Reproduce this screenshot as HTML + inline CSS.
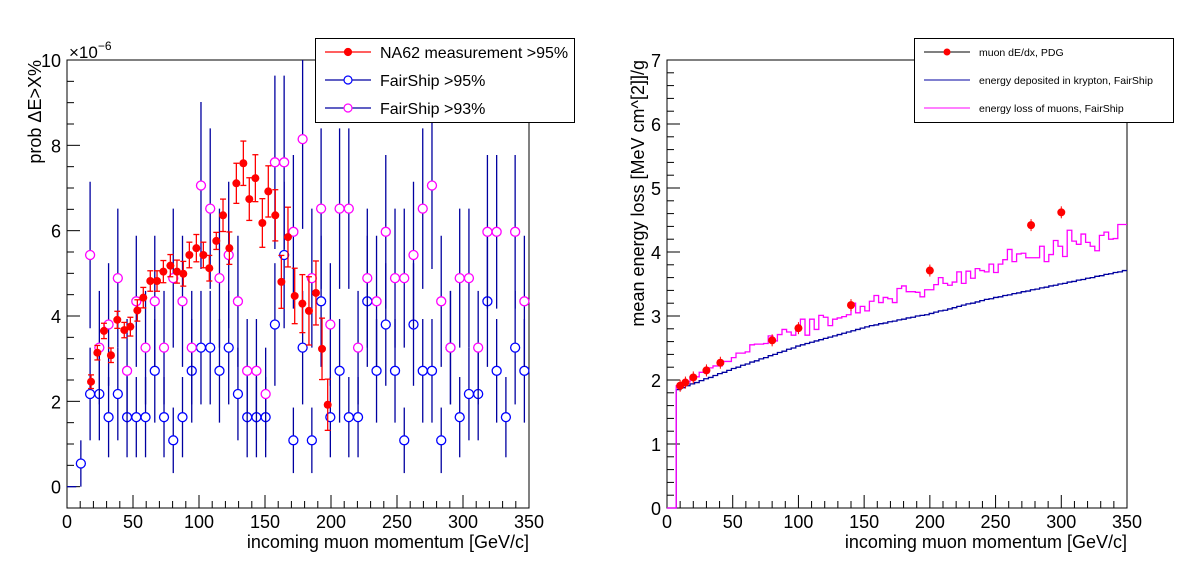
<!DOCTYPE html>
<html><head><meta charset="utf-8"><style>
body{margin:0;background:#fff;}
svg{display:block;font-family:"Liberation Sans",sans-serif;}
</style></head><body>
<svg id="c" width="1198" height="571" xmlns="http://www.w3.org/2000/svg">
<rect width="1198" height="571" fill="#fff"/>
<g id="L"></g>
<g id="R"></g>
</svg>
<script>
// ---- Left panel data ----
const unitL = 0.543;
const fsX0 = 10.5, fsStep = 7;
const fs95Counts = [1,4,4,3,4,3,3,3,5,3,2,3,5,6,6,5,6,4,3,3,3,7,10,2,6,2,8,3,5,3,3,8,5,7,5,2,7,5,5,2,6,3,4,4,8,5,3,6,5];
const fs93Counts = [0,10,6,7,9,5,8,6,8,6,9,8,6,13,12,9,10,8,5,5,4,14,14,11,15,9,12,7,12,12,6,9,8,11,9,9,10,12,13,8,6,9,9,6,11,11,0,11,8];
const na62P = [18.2,23,28,33.3,38.1,43.4,48,53.3,57.8,63.1,68.2,73,78.3,83.3,88.1,92.7,98,103.3,107.8,113.1,118.2,123,128.3,133.6,138.1,142.7,148,152.5,157.8,162.4,167.4,172.5,178.3,183.3,188.6,193.2,197.5];
const na62V = [2.46,3.14,3.65,3.08,3.91,3.67,3.75,4.13,4.43,4.82,4.82,5.04,5.18,5.04,4.99,5.43,5.59,5.43,5.12,5.76,6.36,5.59,7.11,7.58,6.74,7.23,6.18,6.92,6.36,4.80,5.85,4.47,4.29,4.12,4.54,3.23,1.92];
const na62E = [0.16,0.17,0.18,0.17,0.2,0.18,0.22,0.25,0.24,0.24,0.24,0.26,0.26,0.27,0.29,0.3,0.32,0.3,0.3,0.2,0.38,0.38,0.47,0.52,0.5,0.55,0.57,0.6,0.6,0.62,0.7,0.65,0.68,0.8,0.75,0.72,0.6];
const leftYTicks = [0,2,4,6,8,10];
const xTicks = [0,50,100,150,200,250,300,350];
// ---- Right panel data ----
const pdgP = [10,14,20,30,40.6,80,100,140,200,277,300];
const pdgV = [1.91,1.96,2.04,2.15,2.27,2.62,2.81,3.17,3.71,4.42,4.62];
const binW = 3.5;
const depBins = [0,0,1.85,1.88,1.91,1.94,1.96,1.99,2.02,2.04,2.07,2.10,2.12,2.15,2.18,
2.20,2.23,2.25,2.28,2.30,2.33,2.35,2.38,2.40,2.43,2.45,2.48,2.50,2.53,
2.55,2.57,2.59,2.61,2.63,2.65,2.67,2.69,2.71,2.73,2.75,2.77,2.79,2.81,
2.83,2.85,2.86,2.88,2.89,2.91,2.92,2.94,2.95,2.97,2.98,3.00,3.01,3.02,3.04,
3.06,3.08,3.09,3.11,3.13,3.15,3.17,3.19,3.20,3.22,3.24,3.26,3.27,3.29,
3.30,3.32,3.33,3.35,3.36,3.38,3.39,3.41,3.42,3.44,3.45,3.47,3.48,3.50,
3.51,3.53,3.54,3.56,3.57,3.59,3.60,3.62,3.63,3.65,3.66,3.68,3.69,3.71];
const lossBins = [0,0,1.91,1.92,1.97,2.05,2.05,2.12,2.13,2.19,2.22,2.22,2.29,2.29,2.35,2.42,2.42,2.44,2.55,2.56,2.56,2.57,2.69,2.61,2.71,2.79,2.75,2.70,2.78,2.95,2.70,2.95,2.79,3.01,2.98,2.85,2.95,2.97,2.99,3.02,3.20,3.05,3.15,3.08,3.23,3.32,3.21,3.29,3.27,3.21,3.43,3.47,3.38,3.38,3.37,3.30,3.41,3.41,3.49,3.60,3.51,3.48,3.53,3.69,3.51,3.70,3.59,3.74,3.71,3.69,3.81,3.68,3.81,3.88,4.04,3.85,3.97,3.98,3.91,3.91,3.91,4.09,3.85,3.96,4.18,4.09,3.93,4.34,4.17,4.12,4.28,4.15,4.09,4.02,4.26,4.31,4.20,4.21,4.43,4.43];
const rightYTicks = [0,1,2,3,4,5,6,7];

const NS="http://www.w3.org/2000/svg";
function mk(parent,tag,attrs){const e=document.createElementNS(NS,tag);for(const k in attrs)e.setAttribute(k,attrs[k]);parent.appendChild(e);return e;}

const Lx0=67,Lx1=529,Ly0=508,Ly1=60, LyMin=-0.5,LyMax=10;
const lx=p=>Lx0+(p/350)*(Lx1-Lx0);
const ly=v=>Ly0-(v-LyMin)/(LyMax-LyMin)*(Ly0-Ly1);
const Rx0=667,Rx1=1127,Ry0=508,Ry1=60;
const rx=p=>Rx0+(p/350)*(Rx1-Rx0);
const ry=v=>Ry0-(v/7)*(Ry0-Ry1);

const L=document.getElementById('L'), R=document.getElementById('R');

function axes(g,x0,x1,y0,y1,xf,yf,yTicks,yMinor,yMin,yMax,side){
  const fr=mk(g,'rect',{x:x0,y:y1,width:x1-x0,height:y0-y1,fill:'none',stroke:'#000','stroke-width':1});
  
  
  for(let p=0;p<=350;p+=10){const X=xf(p);const len=(p%50===0)?13:7;
    const t=mk(g,'line',{x1:X,x2:X,y1:y0,y2:y0-len,stroke:'#000','stroke-width':1});
    
    }
  xTicks.forEach(p=>{const t=mk(g,'text',{x:xf(p),y:y0+20,'font-size':18,'text-anchor':'middle'});t.textContent=p;
    
    });
  for(let v=yMin;v<=yMax+1e-9;v+=yMinor){const Y=yf(v);const isMaj=Math.abs(Math.round(v*1000)%Math.round(yTicks[1]*1000))<1;
    const t=mk(g,'line',{x1:x0,x2:x0+(isMaj?13:7),y1:Y,y2:Y,stroke:'#000','stroke-width':1});
    
    }
  yTicks.forEach(v=>{const t=mk(g,'text',{x:x0-6,y:yf(v)+7,'font-size':18,'text-anchor':'end'});t.textContent=v;
    
    });
  const xt=mk(g,'text',{x:x1,y:548,'font-size':18,'text-anchor':'end'});xt.textContent='incoming muon momentum [GeV/c]';
  
  
}
axes(L,Lx0,Lx1,Ly0,Ly1,lx,ly,leftYTicks,0.5,-0.5,10,'left');
axes(R,Rx0,Rx1,Ry0,Ry1,rx,ry,rightYTicks,0.2,0,7,'right');

const ylt=mk(L,'text',{x:0,y:0,'font-size':18,'text-anchor':'end',transform:'translate(41,60) rotate(-90)'});ylt.textContent='prob ΔE>X%';


const exp=mk(L,'text',{x:69,y:58,'font-size':17});exp.innerHTML='×10<tspan font-size="12" dy="-8">−6</tspan>';


const yrt=mk(R,'text',{x:0,y:0,'font-size':18,'text-anchor':'end',transform:'translate(644,60) rotate(-90)'});yrt.textContent='mean energy loss [MeV cm^[2]]/g';



const zl=mk(L,'line',{x1:lx(0),x2:lx(fsX0-3.5),y1:ly(0),y2:ly(0),stroke:'#00a','stroke-width':1.3});



function fsSeries(counts,color,name){
  counts.forEach((n,i)=>{if(n<=0)return;const p=fsX0+fsStep*i;const v=n*unitL;const e=Math.sqrt(n)*unitL;const X=lx(p);
    const b=mk(L,'line',{x1:X,x2:X,y1:ly(Math.max(v-e,LyMin)),y2:ly(Math.min(v+e,LyMax)),stroke:'#0000a0','stroke-width':1.3});
    
    
    const c=mk(L,'circle',{cx:X,cy:ly(v),r:4.5,fill:'#fff',stroke:color,'stroke-width':1.3});
    
    });
}
fsSeries(fs95Counts,'#0000ff','fairship-95');
fsSeries(fs93Counts,'#ff00ff','fairship-93');

na62P.forEach((p,i)=>{const X=lx(p),v=na62V[i],e=na62E[i];
  const g=mk(L,'g',{stroke:'#f00','stroke-width':1.3});
  
  
  mk(g,'line',{x1:X,x2:X,y1:ly(v-e),y2:ly(v+e)});
  mk(g,'line',{x1:X-3,x2:X+3,y1:ly(v-e),y2:ly(v-e)});
  mk(g,'line',{x1:X-3,x2:X+3,y1:ly(v+e),y2:ly(v+e)});
  const c=mk(L,'circle',{cx:X,cy:ly(v),r:4,fill:'#f00'});
  
  
});

const lg=mk(L,'g',{});


mk(lg,'rect',{x:315.5,y:38.5,width:259,height:84,fill:'#fff',stroke:'#000'});
[['NA62 measurement >95%','#f00','#f00',true],['FairShip >95%','#0000a0','#00f',false],['FairShip >93%','#0000a0','#f0f',false]].forEach((it,i)=>{
  const Y=52+i*28;
  const e=mk(lg,'g',{});
  
  
  mk(e,'line',{x1:325,x2:371,y1:Y,y2:Y,stroke:it[1],'stroke-width':1.3});
  mk(e,'circle',{cx:348,cy:Y,r:it[3]?3.5:4,fill:it[3]?'#f00':'#fff',stroke:it[2],'stroke-width':1.2});
  const t=mk(e,'text',{x:380,y:Y+6,'font-size':16});t.textContent=it[0];
});

function hist(bins,color,name){
  let d='M'+rx(0)+','+ry(bins[0]);
  bins.forEach((v,i)=>{const xa=rx(i*binW),xb=rx((i+1)*binW);d+=' L'+xa+','+ry(v)+' L'+xb+','+ry(v);});
  const p=mk(R,'path',{d:d,fill:'none',stroke:color,'stroke-width':1.3});
  
  
}
hist(depBins,'#0000a0','energy-deposited-histogram');
hist(lossBins,'#ff00ff','energy-loss-histogram');
pdgP.forEach((p,i)=>{
  const X=rx(p),Y=ry(pdgV[i]);
  mk(R,'line',{x1:X,x2:X,y1:Y-6,y2:Y+6,stroke:'#f00','stroke-width':1});
  const c=mk(R,'circle',{cx:X,cy:Y,r:4,fill:'#f00'});
  
  
});

const rg=mk(R,'g',{});


mk(rg,'rect',{x:914.5,y:38.5,width:259,height:84,fill:'#fff',stroke:'#000'});
[['muon dE/dx, PDG','#000',true],['energy deposited in krypton, FairShip','#0000a0',false],['energy loss of muons, FairShip','#ff00ff',false]].forEach((it,i)=>{
  const Y=52+i*28;
  const e=mk(rg,'g',{});
  
  
  mk(e,'line',{x1:924,x2:970,y1:Y,y2:Y,stroke:it[1],'stroke-width':1});
  if(it[2]) mk(e,'circle',{cx:947,cy:Y,r:3.5,fill:'#f00'});
  const t=mk(e,'text',{x:979,y:Y+4,'font-size':10.5});t.textContent=it[0];
});
</script>
</body></html>
